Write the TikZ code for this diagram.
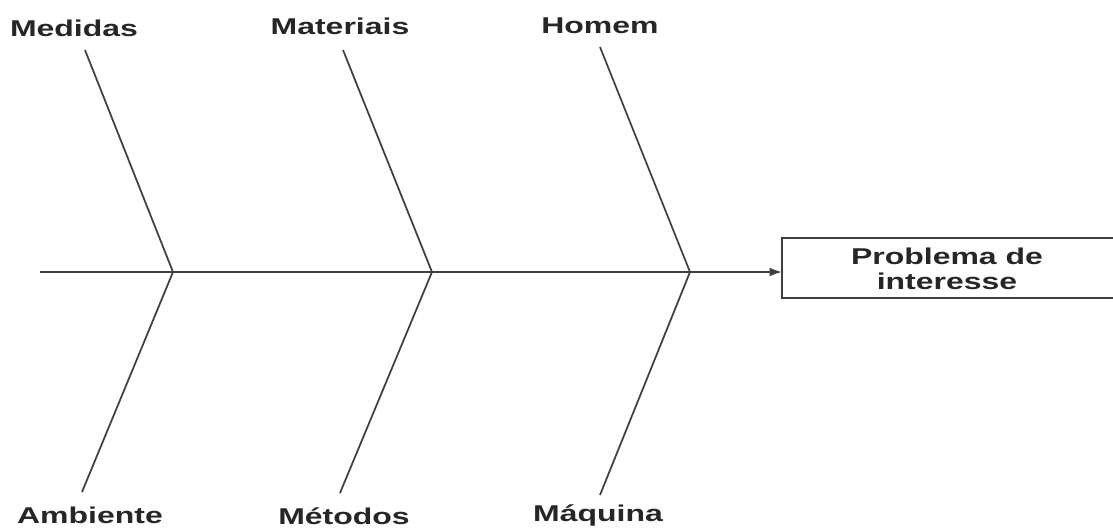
\documentclass[tikz,border=0pt]{standalone}
\usepackage{fontspec}
\setmainfont{Liberation Sans}
\usetikzlibrary{arrows.meta}
\begin{document}
\begin{tikzpicture}[x=0.02cm,y=-0.02cm,
  bone/.style={line width=1pt,black!75},
  lbl/.style={font=\bfseries\fontsize{13}{14}\selectfont,xscale=1.4,inner sep=0pt,black!85}]
\useasboundingbox (0,0) rectangle (1113,529);
% spine
\coordinate (tail) at (40,272);
\coordinate (j1) at (173,272);
\coordinate (j2) at (432,272);
\coordinate (j3) at (690,272);
\coordinate (head) at (782,272);
\draw[bone] (tail) -- (j1) -- (j2) -- (j3);
\draw[bone,-{Latex[length=7pt,width=5pt]}] (j3) -- (head);
% effect box
\draw[bone] (782,238) rectangle (1125,298);
\node[lbl,align=center] (prob) at (947,269) {Problema de\\interesse};
% bone ends
\coordinate (med) at (85,50);
\coordinate (mat) at (343,50);
\coordinate (hom) at (600,47);
\coordinate (amb) at (82,492);
\coordinate (met) at (340,493);
\coordinate (maq) at (600,495);
\draw[bone] (med) -- (j1) -- (amb);
\draw[bone] (mat) -- (j2) -- (met);
\draw[bone] (hom) -- (j3) -- (maq);
% causes
\node[lbl] (lmed) at (74,28) {Medidas};
\node[lbl] (lmat) at (340,26) {Materiais};
\node[lbl] (lhom) at (600,26) {Homem};
\node[lbl] (lamb) at (90,515) {Ambiente};
\node[lbl] (lmet) at (344,516) {Métodos};
\node[lbl] (lmaq) at (598,515) {Máquina};
\end{tikzpicture}
\end{document}
